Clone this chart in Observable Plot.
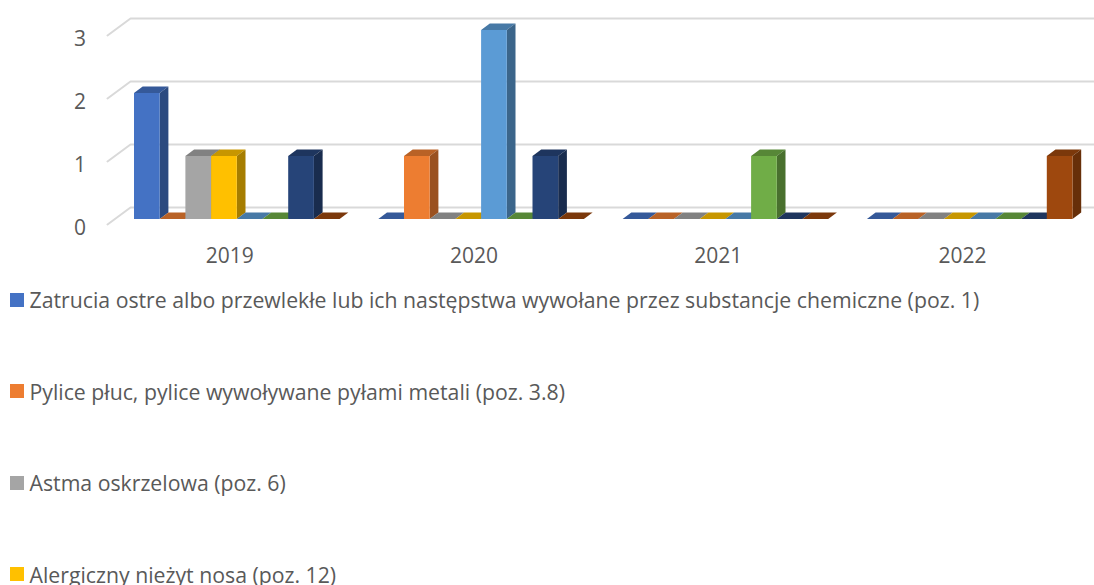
<!DOCTYPE html>
<html lang="pl">
<head>
<meta charset="utf-8">
<script src="https://cdn.jsdelivr.net/npm/d3@7"></script>
<script src="https://cdn.jsdelivr.net/npm/@observablehq/plot@0.6"></script>
<style>
html,body{margin:0;padding:0;background:#fff;overflow:hidden;width:1094px;height:585px}
body{position:relative;font-family:"Open Sans",sans-serif}
#legend{position:absolute;left:0;top:0;width:1094px;height:585px;overflow:hidden;pointer-events:none}
.item{position:absolute;left:10px;display:flex;align-items:center;height:28px;color:#595959;font-size:21.25px;white-space:nowrap}
.sw{width:14px;height:14px;margin-right:5.5px;flex:none}
</style>
</head>
<body>
<div id="chart"></div>
<div id="legend"></div>
<script>
const years = ["2019", "2020", "2021", "2022"];
const yTicks = [0, 1, 2, 3];
const colors = ["#4472C4", "#ED7D31", "#A5A5A5", "#FFC000", "#5B9BD5", "#70AD47", "#264478", "#9E480E"];
const legendNames = [
  "Zatrucia ostre albo przewlekłe lub ich następstwa wywołane przez substancje chemiczne (poz. 1)",
  "Pylice płuc, pylice wywoływane pyłami metali (poz. 3.8)",
  "Astma oskrzelowa (poz. 6)",
  "Alergiczny nieżyt nosa (poz. 12)"
];
const values2019 = [2, 0, 1, 1, 0, 0, 1, 0];
const values2020 = [0, 1, 0, 0, 3, 0, 1, 0];
const values2021 = [0, 0, 0, 0, 0, 1, 0, 0];
const values2022 = [0, 0, 0, 0, 0, 0, 0, 1];
const valuesByYear = [values2019, values2020, values2021, values2022];

// Oblique projection, in scale units (one category wide, one case tall).
const catPx = 244.3, unitPx = 63;
const barW = 25.7 / catPx, barStart = 27 / catPx;
const depthX = 8.7 / catPx, depthY = 6.5 / unitPx;
const wallX = 23 / catPx, wallFront = -5 / unitPx, wallBack = 12 / unitPx, gridEnd = 987 / catPx;

const shade = (hex, k) => { const c = d3.rgb(hex); return d3.rgb(c.r * k, c.g * k, c.b * k).formatHex(); };

const gridMarks = yTicks.map(v => Plot.line(
  [[0, v + wallFront], [wallX, v + wallBack], [gridEnd, v + wallBack]],
  {x: d => d[0], y: d => d[1], stroke: "#d9d9d9", strokeWidth: 2}
));

const barMarks = valuesByYear.flatMap((vals, i) => vals.flatMap((v, k) => {
  const x1 = i + barStart + k * barW, x2 = x1 + barW, c = colors[k];
  const top = [
    {x: x1, y1: v, y2: v},
    {x: x1 + depthX, y1: v, y2: v + depthY},
    {x: x2, y1: v, y2: v + depthY},
    {x: x2 + depthX, y1: v + depthY, y2: v + depthY}
  ];
  const marks = [Plot.areaY(top, {x: "x", y1: "y1", y2: "y2", fill: shade(c, 0.78)})];
  if (v > 0) {
    const side = [
      {x: x2, y1: 0, y2: v},
      {x: x2 + depthX, y1: depthY, y2: v + depthY}
    ];
    marks.push(Plot.areaY(side, {x: "x", y1: "y1", y2: "y2", fill: shade(c, 0.65)}));
    marks.push(Plot.rect([{x1, x2, y1: 0, y2: v}], {x1: "x1", x2: "x2", y1: "y1", y2: "y2", fill: c}));
  }
  return marks;
}));

const chart = Plot.plot({
  width: 1094,
  height: 270,
  margin: 0,
  style: {fontFamily: '"Open Sans",sans-serif', background: "transparent", overflow: "hidden"},
  x: {domain: [0, years.length], range: [107, 107 + catPx * years.length]},
  y: {domain: [0, 3], range: [219, 219 - 3 * unitPx]},
  marks: [
    ...gridMarks,
    ...barMarks,
    Plot.axisY({ticks: yTicks, tickSize: 0, tickPadding: 0, tickFormat: d => String(d), label: null,
      anchor: "left", dx: 85.5, dy: 8.5, fontSize: 21, fill: "#595959", fontVariant: "normal"}),
    Plot.axisX({ticks: years.map((_, i) => i + 0.5), tickSize: 0, tickPadding: 0, tickFormat: d => years[Math.floor(d)],
      label: null, anchor: "bottom", dy: -22, fontSize: 21, fill: "#595959", fontVariant: "normal"})
  ]
});
document.getElementById("chart").appendChild(chart);

const legend = document.getElementById("legend");
legendNames.forEach((name, i) => {
  const it = document.createElement("div");
  it.className = "item";
  it.style.top = (285.5 + i * 91.5) + "px";
  const sw = document.createElement("span");
  sw.className = "sw";
  sw.style.background = colors[i];
  const t = document.createElement("span");
  t.textContent = name;
  it.append(sw, t);
  legend.appendChild(it);
});
</script>
</body>
</html>
